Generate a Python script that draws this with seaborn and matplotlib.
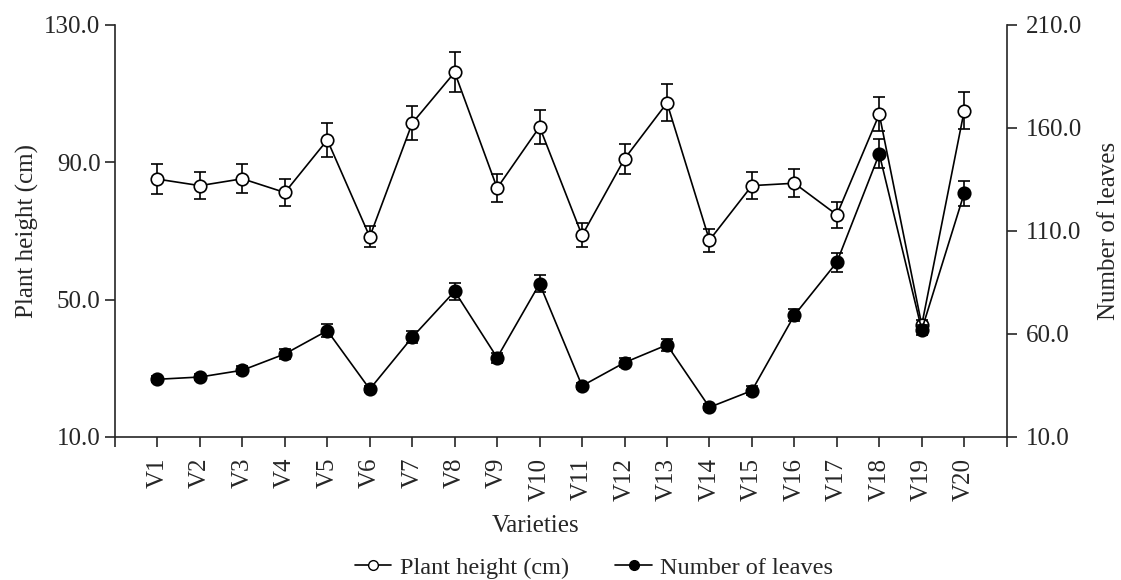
import numpy as np
import pandas as pd
import matplotlib
matplotlib.use("Agg")
import matplotlib.pyplot as plt
import seaborn as sns
from matplotlib.lines import Line2D

varieties = [f"V{i}" for i in range(1, 21)]
height = [85.1, 83.2, 85.2, 81.2, 96.5, 68.3, 101.4, 116.2, 82.5, 100.3,
          68.7, 91.0, 107.3, 67.3, 83.2, 83.9, 74.7, 104.0, 42.6, 105.0]
height_err = [4.3, 4.0, 4.2, 4.0, 4.9, 3.0, 5.0, 5.8, 4.0, 5.0,
              3.5, 4.4, 5.4, 3.3, 4.0, 4.0, 3.7, 5.0, 1.5, 5.4]
leaves = [38.0, 39.1, 42.4, 50.3, 61.6, 33.2, 58.4, 80.7, 48.5, 84.4,
          34.8, 46.1, 54.7, 24.4, 32.5, 69.1, 94.8, 147.4, 62.0, 128.3]
leaves_err = [1.5, 1.5, 2.0, 2.5, 3.0, 1.5, 3.0, 4.0, 2.5, 4.0,
              1.5, 2.0, 3.0, 1.5, 2.0, 3.0, 4.5, 7.0, 2.5, 6.0]

df = pd.DataFrame({"pos": np.arange(1, len(varieties) + 1), "variety": varieties,
                   "height": height, "height_err": height_err,
                   "leaves": leaves, "leaves_err": leaves_err})

sns.set_style("ticks")
plt.rcParams["font.family"] = ["Liberation Serif", "DejaVu Serif"]
plt.rcParams["font.size"] = 17

fig = plt.figure(figsize=(11.21, 5.8), dpi=100)
ax = fig.add_axes([0.1026, 0.2466, 0.7954, 0.7104])
ax2 = ax.twinx()

ax.errorbar(df["pos"], df["height"], yerr=df["height_err"], fmt="none",
            ecolor="black", elinewidth=1.2, capsize=4, capthick=1.2, zorder=2)
sns.lineplot(data=df, x="pos", y="height", ax=ax, color="black", lw=1.2,
             marker="o", markersize=9, markerfacecolor="white",
             markeredgecolor="black", markeredgewidth=1.2, zorder=3)

ax2.errorbar(df["pos"], df["leaves"], yerr=df["leaves_err"], fmt="none",
             ecolor="black", elinewidth=1.2, capsize=4, capthick=1.2, zorder=2)
sns.lineplot(data=df, x="pos", y="leaves", ax=ax2, color="black", lw=1.2,
             marker="o", markersize=9, markerfacecolor="black",
             markeredgecolor="black", markeredgewidth=1.2, zorder=3)

ax.set_xlim(0, 21)
ax.set_ylim(10, 130)
ax2.set_ylim(10, 210)
ax.set_xticks(np.arange(0, 22))
ax.set_xticklabels([""] + varieties + [""], rotation=90)
ax.set_yticks([10, 50, 90, 130])
ax.set_yticklabels([f"{v:.1f}" for v in [10, 50, 90, 130]])
ax2.set_yticks([10, 60, 110, 160, 210])
ax2.set_yticklabels([f"{v:.1f}" for v in [10, 60, 110, 160, 210]])

for a in (ax, ax2):
    a.tick_params(direction="out", length=7, width=1.2, labelsize=18)
    for s in a.spines.values():
        s.set_linewidth(1.2)
    a.spines["top"].set_visible(False)
ax.tick_params(axis="x", pad=8)
ax2.tick_params(axis="y", pad=7)
ax.spines["right"].set_visible(False)
ax2.spines["left"].set_visible(False)
ax2.spines["bottom"].set_visible(False)

ax.set_xlabel("Varieties", fontsize=18)
ax.xaxis.set_label_coords(0.472, -0.19)
ax.set_ylabel("Plant height (cm)", fontsize=18)
ax2.set_ylabel("Number of leaves", fontsize=18, labelpad=11)

handles = [
    Line2D([], [], color="black", lw=1.2, marker="o", markersize=7,
           markerfacecolor="white", markeredgecolor="black"),
    Line2D([], [], color="black", lw=1.2, marker="o", markersize=7,
           markerfacecolor="black", markeredgecolor="black"),
]
fig.legend(handles, ["Plant height (cm)", "Number of leaves"], loc="center",
           bbox_to_anchor=(0.53, 0.021), ncol=2, frameon=False, fontsize=17.5,
           handlelength=1.5, handletextpad=0.35, columnspacing=1.9,
           borderpad=0.1)

fig.savefig("out.png", dpi=100)
